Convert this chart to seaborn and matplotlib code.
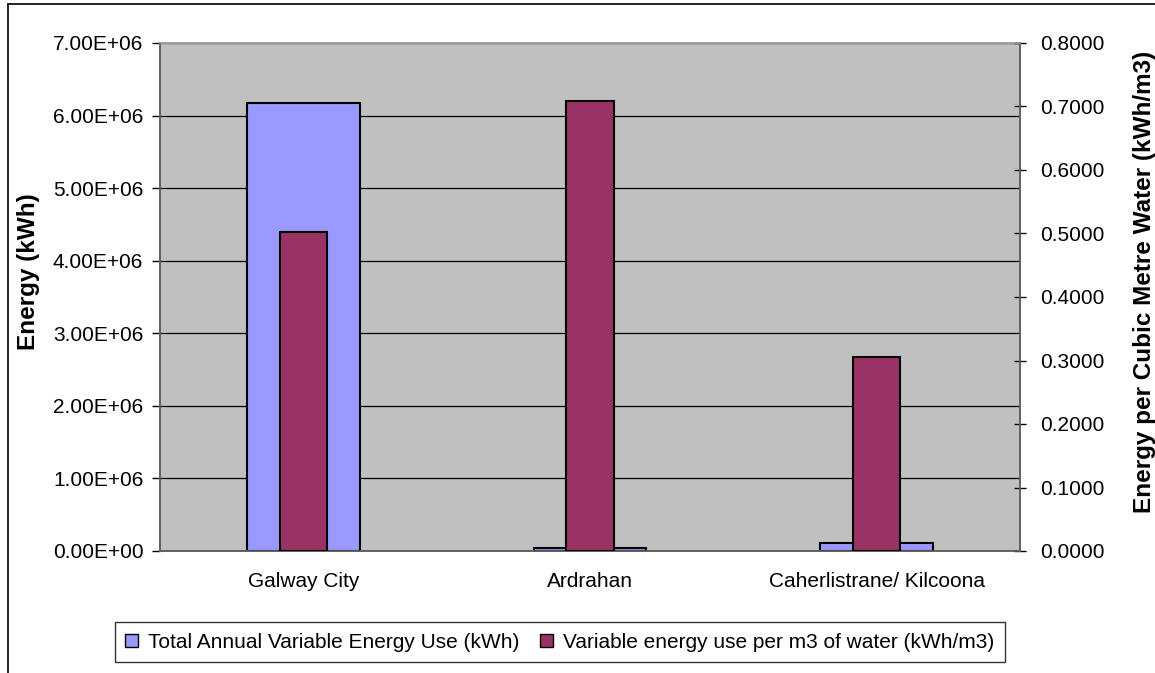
import matplotlib
matplotlib.use("Agg")
import matplotlib.pyplot as plt
from matplotlib.lines import Line2D
from matplotlib.patches import Patch
from matplotlib.ticker import FuncFormatter, MultipleLocator
import seaborn as sns
import pandas as pd

# Scheme data
sites = ["Galway City", "Ardrahan", "Caherlistrane/ Kilcoona"]
total_energy_kwh = [6.17e6, 4.1e4, 1.1e5]
energy_per_m3 = [0.502, 0.709, 0.306]

label_total = "Total Annual Variable Energy Use (kWh)"
label_per_m3 = "Variable energy use per m3 of water (kWh/m3)"

blue = "#9999FF"
maroon = "#993366"
plot_bg = "#C0C0C0"

sns.set_style("white")
plt.rcParams["font.family"] = ["Liberation Sans", "DejaVu Sans"]
plt.rcParams["text.color"] = "black"
plt.rcParams["axes.labelcolor"] = "black"
plt.rcParams["xtick.color"] = "black"
plt.rcParams["ytick.color"] = "black"

W, H = 1155, 673
fig = plt.figure(figsize=(W / 100, H / 100), dpi=100)
ax = fig.add_axes([160 / W, 1 - 551 / H, 860 / W, 508 / H])
ax.set_facecolor(plot_bg)

df = pd.DataFrame({"site": sites, "total": total_energy_kwh, "per_m3": energy_per_m3})

sns.barplot(data=df, x="site", y="total", ax=ax, color=blue, width=0.394,
            edgecolor="black", linewidth=1.5, saturation=1, zorder=3)
ax.set_ylim(0, 7e6)
ax.yaxis.set_major_locator(MultipleLocator(1e6))
ax.yaxis.set_major_formatter(FuncFormatter(lambda v, p: f"{v:.2E}"))
ax.grid(axis="y", color="black", linewidth=0.9, zorder=1)
ax.set_axisbelow(True)
ax.set_xlabel("")
ax.set_ylabel("Energy (kWh)", fontsize=17.5, fontweight="bold", color="black")
ax.yaxis.set_label_coords(-0.1395, 0.549)
ax.set_xlim(-0.5, 2.5)
ax.set_xticks([0, 1, 2])
ax.set_xticklabels(sites, fontsize=15)
ax.set_xticks([0.5, 1.5, 2.5], minor=True)
ax.tick_params(axis="x", which="major", length=0, pad=15, labelcolor="black")
ax.tick_params(axis="x", which="minor", length=6, width=1, color="#606060", direction="out")
ax.tick_params(axis="y", labelsize=15, length=6, width=1, color="black",
               labelcolor="black", direction="out", pad=6)

ax2 = ax.twinx()
sns.barplot(data=df, x="site", y="per_m3", ax=ax2, color=maroon, width=0.166,
            edgecolor="black", linewidth=1.5, saturation=1, zorder=3)
ax2.set_ylim(0, 0.8)
ax2.set_xlim(-0.5, 2.5)
ax2.yaxis.set_major_locator(MultipleLocator(0.1))
ax2.yaxis.set_major_formatter(FuncFormatter(lambda v, p: f"{v:.4f}"))
ax2.set_xlabel("")
ax2.set_ylabel("Energy per Cubic Metre Water (kWh/m3)", fontsize=17.5,
               fontweight="bold", color="black")
ax2.yaxis.set_label_coords(1.1314, 0.53)
ax2.tick_params(axis="y", labelsize=15, length=9, width=1, color="black",
                labelcolor="black", direction="inout", pad=10)

for a in (ax, ax2):
    for side, sp in a.spines.items():
        sp.set_color("#606060")
        sp.set_linewidth(1.2)
ax.spines["top"].set_color("#A0A0A0")
ax2.spines["top"].set_color("#A0A0A0")

handles = [Patch(facecolor=blue, edgecolor="black", linewidth=1.0, label=label_total),
           Patch(facecolor=maroon, edgecolor="black", linewidth=1.0, label=label_per_m3)]
leg = fig.legend(handles=handles, loc="center", ncol=2,
                 bbox_to_anchor=(560 / W, 1 - 642 / H), fontsize=15,
                 frameon=True, fancybox=False, edgecolor="black",
                 handlelength=0.6, handleheight=0.6, handletextpad=0.5,
                 columnspacing=1.0, borderpad=0.5)
leg.get_frame().set_linewidth(1.0)
for t in leg.get_texts():
    t.set_color("black")

# chart-area border along the top and left edges
fig.add_artist(Line2D([8 / W, 1.0], [1 - 4 / H, 1 - 4 / H], color="black", linewidth=1.2))
fig.add_artist(Line2D([8 / W, 8 / W], [0.0, 1 - 4 / H], color="black", linewidth=1.2))

fig.savefig("out.png", dpi=100)
